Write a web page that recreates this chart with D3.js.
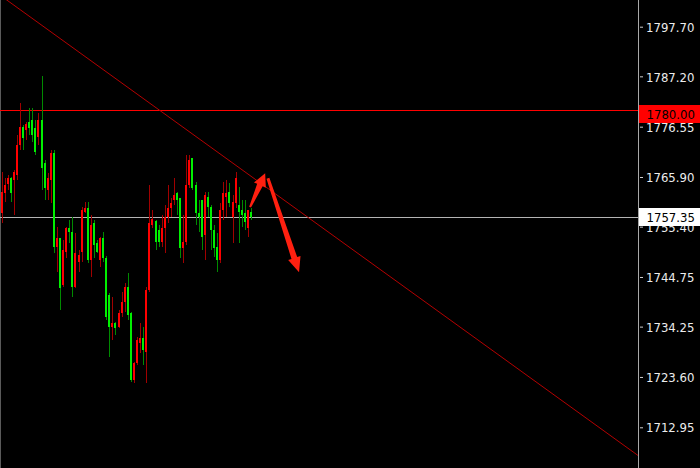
<!DOCTYPE html>
<html><head><meta charset="utf-8">
<script src="https://cdn.jsdelivr.net/npm/d3@7/dist/d3.min.js"></script>
<style>html,body{margin:0;padding:0;background:#000;overflow:hidden}</style>
</head><body>
<svg id="c" width="700" height="468"></svg>
<script>
// ---- data (XAUUSD-like candles) ----
const opens  = [1758.24,1762.48,1764.38,1765.65,1765.23,1766.29,1772.64,1776.46,1775.82,1777.51,
                1777.94,1776.24,1774.34,1777.94,1768.83,1763.11,1765.23,1770.95,1751.04,1752.95,
                1743.00,1749.98,1755.07,1754.22,1742.57,1747.87,1749.98,1758.45,1759.30,1748.29,
                1756.13,1751.89,1748.29,1752.95,1748.71,1740.88,1734.10,1734.95,1734.10,1737.07,
                1739.40,1742.57,1737.07,1722.88,1726.48,1730.71,1731.77,1728.81,1741.94,1755.70,
                1756.55,1754.64,1752.10,1755.07,1757.40,1759.30,1761.00,1762.48,1761.42,1750.83,
                1752.10,1764.17,1769.89,1764.17,1758.24,1761.00,1753.58,1761.63,1759.51,1754.64,
                1751.04,1748.29,1758.88,1761.63,1762.69,1757.40,1760.36,1759.94,1758.88,1758.24,
                1755.07,1758.45];
const highs  = [1766.93,1765.65,1766.29,1765.87,1767.35,1774.76,1781.54,1776.88,1777.51,1780.48,
                1780.48,1777.94,1779.42,1787.26,1769.47,1766.71,1771.58,1771.58,1755.28,1752.95,
                1752.53,1755.28,1756.76,1757.40,1754.01,1750.41,1759.51,1760.57,1760.57,1757.82,
                1756.76,1752.53,1753.16,1754.22,1749.14,1741.30,1740.45,1735.16,1737.70,1741.51,
                1743.42,1745.54,1737.28,1726.69,1731.98,1734.95,1734.10,1742.57,1764.17,1758.88,
                1756.76,1755.70,1757.82,1759.94,1764.17,1761.42,1765.65,1762.69,1761.42,1757.82,
                1770.53,1770.53,1769.89,1764.81,1761.00,1761.00,1762.69,1762.69,1759.94,1755.70,
                1754.01,1760.36,1764.81,1765.23,1764.60,1762.05,1766.93,1763.75,1761.00,1761.00,
                1758.88,1759.30];
const lows   = [1756.13,1760.57,1763.11,1760.57,1757.82,1765.23,1771.58,1771.58,1773.70,1774.76,
                1773.28,1770.53,1772.64,1763.11,1761.00,1761.00,1760.36,1749.77,1745.75,1737.70,
                1742.57,1748.71,1751.89,1740.45,1742.36,1745.75,1747.87,1758.24,1747.65,1744.69,
                1748.71,1749.77,1746.81,1747.87,1735.58,1727.75,1731.35,1732.41,1733.89,1736.22,
                1737.28,1735.58,1722.45,1722.24,1726.05,1728.60,1726.05,1722.24,1741.51,1755.07,
                1750.41,1751.04,1751.04,1749.77,1756.13,1757.40,1759.94,1757.82,1748.71,1747.65,
                1751.47,1763.54,1763.11,1755.70,1754.22,1750.41,1748.29,1757.40,1750.41,1748.93,
                1745.75,1747.65,1756.76,1757.40,1759.51,1751.89,1759.30,1751.89,1755.28,1754.64,
                1753.16,1756.76];
const closes = [1762.69,1764.17,1765.65,1762.48,1766.93,1772.64,1776.46,1774.13,1777.09,1776.24,
                1774.76,1771.16,1777.94,1767.77,1763.54,1765.65,1770.95,1751.04,1752.95,1742.36,
                1750.41,1755.07,1754.22,1742.57,1749.77,1749.35,1758.88,1759.30,1748.29,1755.70,
                1751.47,1749.98,1752.95,1748.71,1736.22,1734.10,1734.95,1733.89,1737.07,1739.40,
                1742.57,1736.64,1722.88,1726.48,1731.35,1731.77,1729.23,1741.94,1756.13,1756.97,
                1752.10,1752.10,1755.07,1757.40,1759.30,1760.36,1762.05,1761.00,1750.83,1752.10,
                1764.17,1769.47,1763.54,1758.24,1757.40,1753.16,1762.05,1759.51,1754.64,1750.83,
                1748.29,1758.88,1762.48,1762.48,1760.36,1760.57,1765.65,1758.45,1757.82,1756.34,
                1758.88,1757.35];
const tickLabels = ["1797.70","1787.20","1776.55","1765.90","1755.40","1744.75","1734.25","1723.60","1712.95"];
const levelPrices = [1780.00, 1757.35];
const levelColors = ["#ff0000", "#b4b4b4"];
const trendPoints = [[0, 1804.15], [200, 1710.11]];
const arrowPoints = [[[80.7, 1759.51], [85.6, 1766.71]], [[86.5, 1765.65], [96.6, 1745.75]]];

// ---- layout ----
const W = 700, H = 468, plotRight = 638;
const svg = d3.select("#c");
svg.append("rect").attr("width", W).attr("height", H).attr("fill", "#000");

const y = d3.scaleLinear().domain([1712.95, 1797.70]).range([427.3, 26.7]);
const x = d3.scaleLinear().domain([0, opens.length - 1]).range([1.5, 251]);

svg.append("defs").append("clipPath").attr("id", "plot")
  .append("rect").attr("x", 0).attr("y", 0).attr("width", plotRight).attr("height", H);
const g = svg.append("g").attr("clip-path", "url(#plot)");

// left border
g.append("line").attr("x1", 0.5).attr("x2", 0.5).attr("y1", 0).attr("y2", H)
  .attr("stroke", "#5a5a5a");

// horizontal levels
levelPrices.forEach((p, k) => {
  g.append("line").attr("x1", 0).attr("x2", plotRight)
    .attr("y1", Math.round(y(p)) + 0.5).attr("y2", Math.round(y(p)) + 0.5)
    .attr("stroke", levelColors[k]).attr("stroke-width", 1);
});

// trendline extended across the plot
const slope = (trendPoints[1][1] - trendPoints[0][1]) / (trendPoints[1][0] - trendPoints[0][0]);
const i0 = x.invert(0), i1 = x.invert(plotRight);
g.append("line")
  .attr("x1", x(i0)).attr("y1", y(trendPoints[0][1] + slope * (i0 - trendPoints[0][0])))
  .attr("x2", x(i1)).attr("y2", y(trendPoints[0][1] + slope * (i1 - trendPoints[0][0])))
  .attr("stroke", "#b40000").attr("stroke-width", 1);

// candles
const candles = opens.map((o, i) => ({ i, o, h: highs[i], l: lows[i], c: closes[i] }));
const cg = g.append("g").attr("shape-rendering", "crispEdges");
candles.forEach(d => {
  const up = d.c >= d.o;
  const cx = Math.round(x(d.i));
  cg.append("rect").attr("x", cx).attr("width", 1)
    .attr("y", Math.round(y(d.h))).attr("height", Math.max(1, Math.round(y(d.l)) - Math.round(y(d.h))))
    .attr("fill", up ? "#a00000" : "#008a00");
  const top = Math.round(y(Math.max(d.o, d.c))), bot = Math.round(y(Math.min(d.o, d.c)));
  cg.append("rect").attr("x", cx - 1).attr("width", 2)
    .attr("y", top).attr("height", Math.max(1, bot - top))
    .attr("fill", up ? "#ff0000" : "#00f000");
});

// arrows
function arrowPath(p0, p1, wTail, wShaft, headLen, headHalf) {
  const dx = p1[0] - p0[0], dy = p1[1] - p0[1], len = Math.hypot(dx, dy);
  const ux = dx / len, uy = dy / len, nx = -uy, ny = ux;
  const bx = p1[0] - ux * headLen, by = p1[1] - uy * headLen;
  const pts = [
    [p0[0] + nx * wTail / 2, p0[1] + ny * wTail / 2],
    [bx + nx * wShaft / 2, by + ny * wShaft / 2],
    [bx + nx * headHalf, by + ny * headHalf],
    [p1[0], p1[1]],
    [bx - nx * headHalf, by - ny * headHalf],
    [bx - nx * wShaft / 2, by - ny * wShaft / 2],
    [p0[0] - nx * wTail / 2, p0[1] - ny * wTail / 2]
  ];
  return "M" + pts.map(p => p.join(",")).join("L") + "Z";
}
arrowPoints.forEach((a, k) => {
  const p0 = [x(a[0][0]), y(a[0][1])], p1 = [x(a[1][0]), y(a[1][1])];
  g.append("path").attr("d", arrowPath(p0, p1, k === 0 ? 2 : 3, 6, k === 0 ? 13 : 15, 6.5))
    .attr("fill", "#ff2010");
});

// right price axis
const font = "'DejaVu Sans Condensed','DejaVu Sans',sans-serif";
svg.append("line").attr("x1", plotRight + 0.5).attr("x2", plotRight + 0.5).attr("y1", 0).attr("y2", H)
  .attr("stroke", "#a8a8a8");
const axis = d3.axisRight(y).tickValues(tickLabels.map(Number))
  .tickFormat((d, k) => tickLabels[k]).tickSizeInner(3).tickSizeOuter(0).tickPadding(4);
const ag = svg.append("g").attr("transform", `translate(${plotRight + 1},0)`).call(axis);
ag.select(".domain").remove();
ag.selectAll(".tick line").attr("stroke", "#d0d0d0").attr("transform", "translate(1,0)");
ag.selectAll(".tick text").attr("fill", "#ececec").style("font-family", font)
  .style("font-stretch", "condensed").style("font-size", "13px").attr("dy", "0.36em");

// price boxes
const boxes = [
  { p: levelPrices[0], bg: "#ff0000", off: -5 },
  { p: levelPrices[1], bg: "#ffffff", off: -9 }
];
boxes.forEach(b => {
  const yy = Math.round(y(b.p));
  svg.append("rect").attr("x", plotRight + 1).attr("y", yy + b.off).attr("width", W - plotRight - 1).attr("height", 18)
    .attr("fill", b.bg);
  svg.append("text").attr("x", 646.5).attr("y", yy + b.off + 9).attr("dy", "0.36em")
    .attr("fill", "#000").style("font-family", font).style("font-stretch", "condensed")
    .style("font-size", "13px").text(b.p.toFixed(2));
});
</script>
</body></html>
